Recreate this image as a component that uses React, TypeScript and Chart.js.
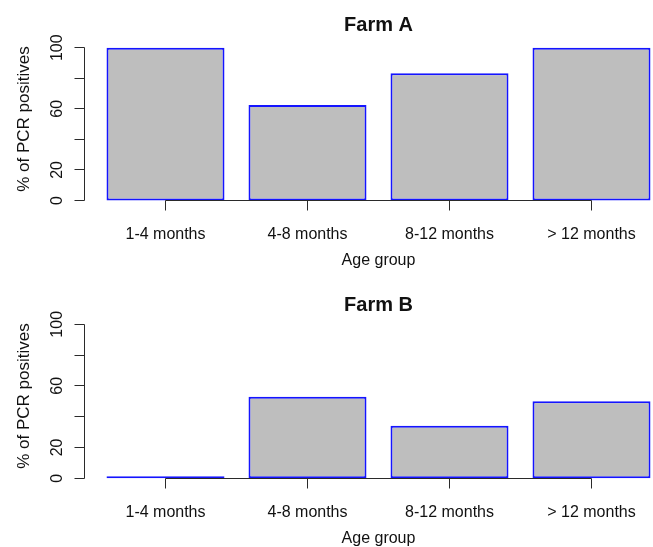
import React, { useEffect, useRef } from "react";
import { Chart, registerables } from "chart.js";

Chart.register(...registerables);

// ---- data ----
const categories = ["1-4 months", "4-8 months", "8-12 months", "> 12 months"];
const farmA = [100, 62.5, 83.3, 100];
const farmB = [0, 53, 34, 50];
const yTicks = [0, 20, 40, 60, 80, 100];
const yTickLabels = ["0", "20", "", "60", "", "100"];
const panelTitles = ["Farm A", "Farm B"];
const xTitle = "Age group";
const yTitle = "% of PCR positives";

const FONT = '"Liberation Sans", Arial, Helvetica, sans-serif';
const CANVAS_W = 690;
const PLOT_LEFT = 94.5;
const PLOT_RIGHT = 662.5;
const AXIS_X = 84;
const CENTER_X = 378.5;

type PanelProps = {
  title: string;
  values: number[];
  top: number;
  height: number;
  plotTop: number;
  plotBottom: number;
  titleBaseline: number;
};

function Panel({ title, values, top, height, plotTop, plotBottom, titleBaseline }: PanelProps) {
  const ref = useRef<HTMLCanvasElement>(null);

  useEffect(() => {
    const canvas = ref.current!;
    const rPlugin = {
      id: "rStyle",
      afterDatasetsDraw(chart: any) {
        const ctx = chart.ctx as CanvasRenderingContext2D;
        const xs = chart.scales.x;
        const ys = chart.scales.y;
        const snap = (p: number) => Math.floor(p) + 0.5;
        ctx.save();
        ctx.strokeStyle = "#2a2a2a";
        ctx.lineWidth = 1;
        // y axis
        const yA = snap(ys.getPixelForValue(yTicks[0]));
        const yB = snap(ys.getPixelForValue(yTicks[yTicks.length - 1]));
        ctx.beginPath();
        ctx.moveTo(AXIS_X + 0.5, yA);
        ctx.lineTo(AXIS_X + 0.5, yB);
        yTicks.forEach((v) => {
          const p = snap(ys.getPixelForValue(v));
          ctx.moveTo(AXIS_X + 0.5, p);
          ctx.lineTo(AXIS_X - 9.5, p);
        });
        ctx.stroke();
        // x axis
        const base = snap(ys.getPixelForValue(0));
        const xFirst = snap(xs.getPixelForValue(0));
        const xLast = snap(xs.getPixelForValue(categories.length - 1));
        ctx.beginPath();
        ctx.moveTo(xFirst, base);
        ctx.lineTo(xLast, base);
        categories.forEach((_, i) => {
          const p = snap(xs.getPixelForValue(i));
          ctx.moveTo(p, base);
          ctx.lineTo(p, base + 10);
        });
        ctx.stroke();

        // texts
        ctx.fillStyle = "#111";
        ctx.textAlign = "center";
        ctx.textBaseline = "alphabetic";
        ctx.font = `16px ${FONT}`;
        categories.forEach((c, i) => {
          ctx.fillText(c, xs.getPixelForValue(i), base + 38);
        });
        ctx.fillText(xTitle, CENTER_X, base + 64.5);

        yTicks.forEach((v, i) => {
          const lab = yTickLabels[i];
          if (!lab) return;
          const p = ys.getPixelForValue(v);
          ctx.save();
          ctx.translate(AXIS_X - 22.5, p);
          ctx.rotate(-Math.PI / 2);
          ctx.fillText(lab, 0, 0);
          ctx.restore();
        });

        ctx.save();
        ctx.font = `17px ${FONT}`;
        ctx.translate(29, 119);
        ctx.rotate(-Math.PI / 2);
        ctx.fillText(yTitle, 0, 0);
        ctx.restore();

        ctx.font = `bold 20px ${FONT}`;
        ctx.fillText(title, CENTER_X, titleBaseline);
        ctx.restore();
      },
    };

    const chart = new Chart(canvas, {
      type: "bar",
      data: {
        labels: categories,
        datasets: [
          {
            data: values,
            backgroundColor: "#bebebe",
            borderColor: "#1414ff",
            borderWidth: 2,
            borderSkipped: false,
            minBarLength: 2,
            categoryPercentage: 1,
            barPercentage: 118 / 142,
            clip: false,
          } as any,
        ],
      },
      options: {
        animation: false,
        responsive: false,
        maintainAspectRatio: false,
        devicePixelRatio: 1,
        events: [],
        layout: {
          padding: {
            left: PLOT_LEFT,
            right: CANVAS_W - PLOT_RIGHT,
            top: plotTop,
            bottom: height - plotBottom,
          },
        },
        plugins: {
          legend: { display: false },
          tooltip: { enabled: false },
          title: { display: false },
        },
        scales: {
          x: { display: false },
          y: { display: false, min: 0, max: 100 },
        },
      },
      plugins: [rPlugin],
    });
    return () => chart.destroy();
  }, [title, values, top, height, plotTop, plotBottom, titleBaseline]);

  return (
    <canvas
      ref={ref}
      width={CANVAS_W}
      height={height}
      style={{ position: "absolute", left: 0, top, width: CANVAS_W, height }}
    />
  );
}

export default function App() {
  return (
    <div
      style={{
        position: "absolute",
        left: 0,
        top: 0,
        width: 653,
        height: 547,
        overflow: "hidden",
        background: "#fff",
      }}
    >
      <Panel
        title={panelTitles[0]}
        values={farmA}
        top={0}
        height={277}
        plotTop={47.7}
        plotBottom={200.5}
        titleBaseline={31}
      />
      <Panel
        title={panelTitles[1]}
        values={farmB}
        top={277}
        height={270}
        plotTop={47.3}
        plotBottom={201.2}
        titleBaseline={34}
      />
    </div>
  );
}
